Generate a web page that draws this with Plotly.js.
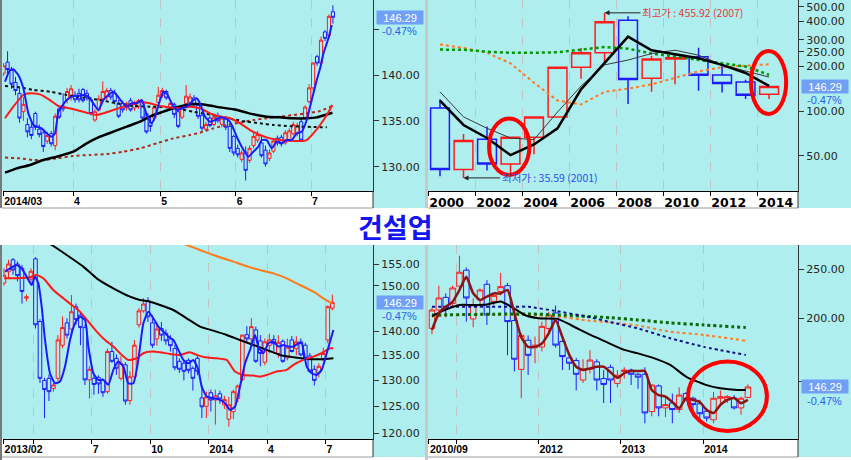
<!DOCTYPE html>
<html><head><meta charset="utf-8">
<script src="https://cdn.plot.ly/plotly-3.0.1.min.js"></script>
<style>html,body{margin:0;padding:0;background:#fff;}#chart{width:851px;height:460px;}</style>
</head><body><div id="chart"></div>
<script>
// ================= DATA =================
const chartTitle = '건설업';
const lastClose = 146.29;
const lastChange = '-0.47%';

// --- Top-left: daily 2014/03 - 2014/07 ---
const tlOpen  = [140.2,141.4,140.5,139.2,138.0,136.0,134.6,134.3,135.8,134.1,133.7,132.8,133.6,132.3,136.3,136.6,137.3,137.6,137.8,138.0,138.4,138.0,137.3,135.1,136.2,137.4,137.6,138.3,138.0,136.9,136.9,136.4,137.2,136.4,136.6,137.0,135.8,134.8,135.3,137.0,137.8,138.2,136.5,136.8,136.0,135.4,136.9,137.0,137.5,136.7,135.6,134.1,135.3,134.6,135.5,134.6,135.2,134.4,133.3,132.0,130.8,131.6,130.7,132.3,132.9,132.6,131.8,130.9,131.7,133.1,133.2,132.6,132.9,133.6,133.6,134.9,135.3,137.1,138.6,142.0,141.3,144.7,144.3,146.9];
const tlHigh  = [141.3,142.6,140.9,139.8,138.6,137.6,135.3,134.9,136.0,134.6,134.0,133.8,133.9,135.8,136.6,138.0,138.6,138.9,138.2,138.5,138.6,138.4,137.6,136.3,137.8,139.3,138.6,138.6,138.4,137.3,137.2,137.1,137.5,137.2,137.4,137.2,136.0,135.3,136.7,138.7,138.6,138.4,137.1,137.0,136.2,136.6,138.9,138.0,137.8,136.9,135.8,134.9,135.6,135.8,135.9,135.6,135.5,134.6,133.5,132.4,131.8,132.2,132.3,133.8,133.9,133.4,132.3,131.9,133.0,133.4,133.5,134.0,134.2,134.9,134.8,135.2,136.7,139.0,141.4,142.2,144.2,144.9,146.6,147.6];
const tlLow   = [139.9,140.0,138.5,137.8,134.8,135.0,133.2,133.0,134.0,133.2,131.6,132.5,132.2,131.8,135.2,136.0,136.9,137.2,137.0,137.0,137.0,137.2,135.6,134.9,136.0,137.0,137.2,137.3,136.8,135.3,135.9,136.1,136.0,136.1,136.3,135.1,133.6,133.8,135.0,136.8,137.5,137.3,136.2,135.3,134.2,135.2,136.7,136.8,136.5,135.2,133.9,133.9,134.3,134.4,134.8,134.3,134.0,131.6,131.2,131.0,130.5,128.5,130.4,132.0,132.6,131.0,130.0,130.6,131.5,132.3,132.2,132.4,132.7,133.4,133.3,132.7,135.1,136.9,138.3,141.0,141.0,143.7,144.0,145.6];
const tlClose = [141.0,140.6,139.0,138.3,135.3,136.8,133.8,133.4,134.3,133.5,132.2,133.4,132.5,135.5,135.4,136.3,138.2,138.5,137.3,137.3,137.2,137.5,135.8,136.0,137.4,138.2,138.3,137.6,137.1,135.5,136.2,136.9,136.2,136.9,137.2,135.3,133.8,134.4,136.5,137.8,138.3,137.5,136.9,135.7,134.4,136.4,137.7,137.6,136.8,135.5,134.2,134.6,134.5,135.4,135.0,135.3,134.3,132.0,131.5,131.3,131.5,129.6,132.0,133.3,133.5,131.2,130.3,131.5,132.8,132.6,132.5,133.7,133.9,134.6,134.5,132.9,136.5,138.6,141.3,141.3,143.8,144.0,146.4,146.29];
const tlTickPos  = [-0.1, 17.5, 39.5, 58.5, 77.5];
const tlTickText = ['2014/03','4','5','6','7'];
const tlYTicks = [130,135,140,145];
const tlYText  = ['130.00','135.00','140.00',''];
const tlMa5X = [0.35,1.61,2.45,3.71,4.98,6.24,7.5,8.34,9.6,10.86,12.12,12.96,13.8,14.64,15.9,17.16,18.42,20.1,21.36,22.62,23.88,25.14,26.4,27.66,28.5,29.77,31.03,32.29,33.55,34.81,36.07,37.33,38.17,39.43,40.27,41.11,42.37,43.63,44.89,46.15,47.41,48.67,49.51,50.77,52.03,53.29,54.55,55.82,56.66,57.5,58.76,60.02,61.7,62.96,64.22,65.06,66.32,67.58,68.84,70.1,71.36,72.62,73.88,75.14,76.4,77.24,78.08,78.93,79.77,80.61,81.87,82.71];
const tlMa5Y = [139.27,140.55,140.62,140.0,138.55,135.82,134.55,134.37,134.18,133.64,133.27,133.64,136.0,136.55,137.27,137.64,137.71,137.82,137.64,136.91,136.18,137.27,137.82,138.18,137.82,137.09,136.55,136.91,136.91,137.27,135.64,134.73,135.46,137.27,138.18,138.0,136.91,136.18,136.37,136.55,137.09,137.46,136.91,135.46,134.91,135.09,135.38,135.27,135.09,134.55,133.27,132.18,131.09,131.64,132.18,132.91,132.91,132.0,132.73,132.55,132.91,132.91,133.64,133.82,135.09,136.55,138.0,139.45,140.73,142.36,144.0,145.45];
const tlMa20X = [0.35,2.45,4.98,6.66,9.18,11.7,13.8,15.9,18.42,20.94,23.46,25.14,27.66,30.19,32.71,34.39,36.91,39.43,41.95,44.47,46.99,49.51,52.03,54.55,57.08,59.6,62.12,64.64,67.16,69.68,72.2,74.72,76.4,78.08,79.77,81.45,82.87];
const tlMa20Y = [135.28,136.55,137.82,138.0,137.89,137.27,136.62,136.44,136.18,135.89,135.64,135.82,136.18,136.55,136.91,137.09,136.91,136.62,136.47,136.37,136.55,136.37,135.82,135.46,135.28,134.73,134.0,133.46,133.09,132.91,132.84,132.8,132.91,133.64,134.55,135.64,136.73];
const tlMa60X = [0.35,3.29,6.66,10.02,13.38,17.58,20.94,24.3,27.66,31.03,34.39,37.75,40.27,42.79,46.15,48.67,51.19,54.55,57.92,60.44,62.96,66.32,69.68,73.04,76.4,78.93,81.03,82.87];
const tlMa60Y = [129.35,129.82,130.19,130.73,131.09,131.64,132.55,133.27,133.82,134.37,134.91,135.64,136.0,136.37,136.73,136.84,136.73,136.47,136.26,136.0,135.71,135.46,135.38,135.28,135.28,135.38,135.64,135.89];
const tlMa120X = [0.35,4.13,7.5,11.7,15.9,20.1,24.3,28.5,32.71,36.91,41.11,44.47,47.83,51.19,54.55,57.92,61.28,64.64,68.0,71.36,74.72,78.08,81.45];
const tlMa120Y = [138.8,138.66,138.37,138.18,137.82,137.53,137.27,136.91,136.62,136.55,136.47,136.26,136.0,135.75,135.46,135.17,134.91,134.73,134.55,134.44,134.37,134.33,134.29];
const tlMa240X = [0.35,4.13,7.5,10.02,13.38,17.58,21.78,25.98,30.19,34.39,38.59,42.79,46.99,49.51,52.87,56.24,59.6,62.96,66.32,69.68,73.04,76.4,79.77,82.87];
const tlMa240Y = [130.99,130.91,130.73,130.73,130.91,131.17,131.28,131.38,131.64,132.0,132.55,133.09,133.46,133.71,134.18,134.55,134.8,135.09,135.28,135.46,135.64,135.82,136.08,136.62];

// --- Top-right: yearly 2000 - 2014 ---
const trYears = [2000,2001,2002,2003,2004,2005,2006,2007,2008,2009,2010,2011,2012,2013,2014];
const trOpen  = [104.6,40.5,64.6,44.1,66.6,91.3,197,245.9,406,166,223,231,174.6,156.5,129.8];
const trHigh  = [119.8,70.0,78.6,67.0,91.5,198,265,455.92,433,235,245,266,209,162,146.8];
const trLow   = [36.5,35.59,39.9,38.0,51.3,90,164.4,209,111.6,134.5,151,136.6,133,120.4,120.4];
const trClose = [40.5,63.4,44.1,66.6,91.3,197,245.9,398,162.7,223,228,174,153,127.8,146.29];
const trMaThick  = [117.5,80.6,65.9,50.6,59.7,76.6,139.9,209,315.7,255.9,240.6,225.8,204,179.9,147.3];
const trMaThin   = [134.6,91.4,76.6,65.9,64.3,98.5,147,204,219.8,243,255.9,237,204,184.6,169];
const trMaGreen  = [258.3,258,250,246,246,248,258,269,262,243,231.5,219.7,209,198.9,175];
const trMaOrange = [279.9,265,245.9,209,154.8,117.5,110.6,134.5,141.4,150.9,166.8,184.6,197,202,206];
const trTickPos  = [1999.5,2001.5,2003.5,2005.5,2007.5,2009.5,2011.5,2013.5];
const trTickText = ['2000','2002','2004','2006','2008','2010','2012','2014'];
const trYTicks = [50,100,200,250,300,400,500];
const trYText  = ['50.00','100.00','200.00','250.00','300.00','400.00','500.00'];
const trHighNote = {year: 2007, value: 455.92, text: '최고가 : 455.92 (2007)'};
const trLowNote  = {year: 2001, value: 35.59,  text: '최저가 : 35.59 (2001)'};

// --- Bottom-left: weekly 2013/02 - 2014/07 ---
const blOpen  = [150.6,153.2,156.0,155.0,154.0,147.2,151.5,156.2,142.1,130.0,130.4,128.4,130.4,137.1,141.8,140.5,145.3,143.5,140.8,130.1,130.4,130.6,130.0,127.8,135.8,134.4,130.4,133.1,126.1,130.7,141.4,144.4,146.6,141.8,138.4,140.6,139.6,138.4,136.4,133.8,133.4,134.0,132.4,134.4,126.6,125.0,127.6,126.2,127.4,125.3,122.6,124.0,126.5,130.2,139.3,138.4,140.3,138.0,133.6,137.0,138.3,135.4,137.9,134.5,138.2,136.4,137.8,137.1,134.9,132.2,131.5,134.1,138.2,145.0];
const blHigh  = [154.0,156.0,156.4,155.6,154.8,148.0,154.0,156.6,142.6,130.5,131.2,129.5,139.2,143.2,142.8,147.9,146.0,144.2,141.4,132.8,131.0,131.0,130.4,136.4,137.8,135.2,134.8,133.6,131.8,138.2,145.0,147.2,147.4,143.5,142.0,142.0,140.4,139.2,137.1,134.4,134.0,134.4,132.8,135.1,129.0,127.8,128.2,128.2,128.0,127.0,126.8,128.2,129.2,139.3,141.1,142.8,141.0,139.2,138.5,139.5,139.2,139.2,138.3,138.5,139.0,139.0,138.5,137.6,135.5,133.0,133.4,136.6,145.6,148.0];
const blLow   = [150.0,151.7,152.5,151.0,146.0,146.5,150.8,140.6,129.5,122.8,126.0,127.8,129.8,136.5,138.5,139.2,141.4,137.1,129.1,126.5,127.2,127.4,126.8,127.4,133.5,131.1,130.0,125.3,125.3,130.0,140.8,144.0,142.0,136.5,137.0,138.0,137.2,135.8,132.0,131.5,130.0,131.4,128.0,131.0,122.8,122.8,124.0,121.6,125.5,124.5,121.2,122.6,125.8,129.8,137.8,137.2,133.5,132.8,133.0,135.4,135.8,134.5,133.5,134.0,135.6,135.0,134.8,134.0,131.5,129.0,130.6,133.8,137.5,144.5];
const blClose = [152.4,155.0,153.6,152.3,148.7,147.5,153.3,141.4,130.4,128.2,127.8,129.1,138.2,140.8,139.2,144.2,142.5,140.8,130.1,132.2,129.2,129.3,127.6,135.8,133.8,132.4,133.4,126.0,130.7,137.1,144.4,145.9,143.1,137.1,140.5,139.2,138.0,137.0,132.5,132.2,131.8,132.0,130.4,131.8,124.9,126.8,126.2,127.0,126.4,126.3,125.3,127.8,128.9,139.2,138.4,141.0,133.8,135.4,137.8,138.2,137.4,137.7,133.8,136.7,135.8,137.8,135.1,134.4,131.8,130.0,132.8,135.4,145.3,146.29];
const blTickPos  = [-0.1, 6.5, 19.5, 32.5, 45.5, 58.5, 71.5];
const blTickText = ['2013/02','','7','10','2014','4','7'];
const blYTicks = [120,125,130,135,140,150,155];
const blYText  = ['120.00','125.00','130.00','135.00','140.00','150.00','155.00'];
const blMa5X = [0.22,1.33,2.82,3.93,5.04,6.15,6.89,7.64,8.38,9.12,10.23,11.34,12.45,13.57,14.68,15.79,16.9,18.01,18.76,19.87,20.98,22.09,23.2,24.31,25.43,26.54,27.65,28.76,29.87,30.99,32.1,33.21,34.32,35.43,36.55,37.66,38.77,39.88,40.99,42.11,43.22,43.96,45.07,46.55,48.04,49.15,50.26,51.37,52.48,53.6,54.71,55.82,56.56,57.67,58.78,59.9,61.01,62.12,63.23,64.34,65.46,66.2,67.31,68.42,69.53,70.64,71.76,73.24];
const blMa5Y = [153.21,153.99,154.77,153.99,152.06,150.16,152.06,150.54,145.32,138.19,131.41,129.44,129.77,132.74,138.19,141.72,143.14,142.43,136.81,131.41,130.1,130.1,129.12,132.08,133.75,132.74,129.44,129.44,134.08,141.72,144.23,142.79,141.01,139.95,138.89,138.19,136.13,134.08,133.41,134.08,132.08,128.79,126.86,126.54,126.22,125.59,124.33,124.96,128.79,133.41,136.13,139.24,136.81,135.44,137.5,137.85,136.81,137.15,136.81,136.81,137.5,137.5,132.74,131.41,131.08,132.08,135.44,140.3];
const blMa20X = [0,2.82,5.78,7.26,8.75,10.97,13.2,15.05,16.9,18.76,20.61,22.46,24.31,26.17,27.65,29.5,30.99,32.84,34.69,36.92,39.14,41.36,42.85,44.7,47.3,49.52,51.37,53.23,55.45,56.93,58.41,60.64,62.86,64.34,66.57,68.79,70.64,72.5,73.24];
const blMa20Y = [151.68,151.68,151.92,152.47,151.68,149.03,147.16,145.69,144.23,142.07,139.95,138.19,136.81,135.1,134.08,134.42,135.44,135.78,135.64,135.3,135.1,135.64,135.1,134.62,134.42,134.08,131.74,131.08,130.95,130.75,131.08,131.74,132.08,133.08,134.08,134.76,135.44,136.47,136.47];
const blMa60X = [0,10.6,13.94,17.64,20.61,24.31,28.02,30.24,32.47,34.69,37.66,40.62,43.59,46.55,49.52,52.48,55.45,58.41,61.38,64.34,67.31,70.27,73.24];
const blMa60Y = [166.0,159.52,157.12,154.38,151.68,149.4,147.53,146.79,146.42,145.69,144.59,142.79,141.01,140.15,139.24,138.19,137.15,136.13,135.1,134.62,134.28,134.22,134.42];
const blMa120X = [30,40.62,43.59,46.55,51.0,55.45,59.9,62.86,65.83,68.79,71.02,72.87];
const blMa120Y = [164.0,159.52,158.32,157.12,155.55,153.99,152.83,151.68,150.16,148.65,147.16,146.06];

// --- Bottom-right: monthly 2010/09 - 2014/07 ---
const brOpen  = [191,207.7,220,214,231.5,249,199.4,217.4,233.5,216,226,232,198,158.5,181,175,175.5,191,205,180,167,165,151,158.6,164,152,160,148.7,157,158,155,155,130.8,147,133,136,132,142,139,135.5,131,126,139,138,139,133,139.5];
const brHigh  = [210,232,224,232,266,252,219,229,238,225,246,235,206,187,185,184,197,206,212,184,171,167,166,173,166,158,162,158,160,159,156,160,148,148,139,142,146,143,140,138,133,143,144,141,141,140,148];
const brLow   = [186,201,201,210,227.5,197,192,210,194,212,222,169,157,139,154.5,163,172,187,175,158,158,144,149,155.6,144,136,136,146,152,147.6,145,124,128,128,127.5,124,130,137,128,126,125,124,134,136,132,129,139];
const brClose = [207.7,219.4,210,229.6,246.7,219.4,212.5,227.5,203,222,231,197,166,185,169,177,192.8,203,177,168,163,155,158.6,165.4,151,148,151,154.3,158,155,153,130,147.6,133,135,132,141,138,135,129.5,127,139,140,140,133,139,146.29];
const brTickPos  = [-0.45, 3.5, 15.5, 27.5, 39.5];
const brTickText = ['2010/09','','2012','2013','2014'];
const brYTicks = [150,200,250];
const brYText  = ['','200.00','250.00'];
const brMaShort = [189.7,204.6,210.8,215.6,227.5,241.6,224.1,217.4,220.8,224.0,224.0,227.5,204.6,183.4,175.6,175.6,178.3,186.8,198.5,183.4,169.3,160.4,158.1,159.2,160.4,160.4,156.4,152.5,155.8,157.3,157.3,157.3,144.3,141.0,140.0,136.6,132.8,139.1,137.9,136.6,131.7,129.9,134.8,137.9,139.1,135.9,137.9];
const brMaBlackX = [0,2,4,6,8,10,11.5,13.5,15.5,18.3,20.2,23.1,25.1,28,30,32.3,34.7,37.1,40,42,44.5,45.7];
const brMaBlackY = [202,208,212.5,212.5,213,216,211,203,200,199.5,194,185.4,180.3,173.2,170.5,166.8,161.7,153,147.5,145.4,144.3,144.3];
const brMaNavyX = [0,11,14,18.7,22.6,26,30,34.7,39.6,45.7];
const brMaNavyY = [210.8,210.8,210.8,206,201.5,196.5,191,182.6,175.6,169.3];
const brMaGreenX = [0,14,18.7,26,30,34.7,39.6,45.7];
const brMaGreenY = [203,204,203,200.5,198.5,195.9,194,191.8];
const brMaOrangeX = [0,3,14,18.7,22.6,26,30,34.7,39.6,45.7];
const brMaOrangeY = [201.5,203,203,201.5,198,196.3,193.5,188.2,185.4,180.6];

// ================= STYLE / LAYOUT =================
const W = 851, H = 460;
const fx = p => p / W, fy = p => 1 - p / H;
const CYAN = '#AFEEEE';
const FONT = 'Liberation Sans, Arial, sans-serif';
const KFONT = 'Noto Sans CJK KR, Liberation Sans, sans-serif';
const idx = arr => arr.map((_, i) => i);

function candle(xs, o, h, l, c, xa, ya, lw) {
  return {type:'candlestick', x:xs, open:o, high:h, low:l, close:c, xaxis:xa, yaxis:ya,
    increasing:{line:{color:'#ff1c1c', width:lw}, fillcolor:'rgba(0,0,0,0)'},
    decreasing:{line:{color:'#1c1cff', width:lw}, fillcolor:'rgba(0,0,0,0)'},
    whiskerwidth:0, hoverinfo:'skip', showlegend:false};
}
function ln(xs, ys, xa, ya, color, width, dash, smooth) {
  return {type:'scatter', mode:'lines', x:xs, y:ys, xaxis:xa, yaxis:ya,
    line:{color:color, width:width, dash:dash || 'solid', shape: smooth ? 'spline' : 'linear', smoothing:0.5},
    hoverinfo:'skip', showlegend:false};
}

const traces = [
  candle(idx(tlClose), tlOpen, tlHigh, tlLow, tlClose, 'x', 'y', 1),
  ln(tlMa240X, tlMa240Y, 'x', 'y', '#b0281c', 2, 'dot', true),
  ln(tlMa120X, tlMa120Y, 'x', 'y', '#111', 2, 'dot', true),
  ln(tlMa60X, tlMa60Y, 'x', 'y', '#000', 2.5, 'solid', true),
  ln(tlMa20X, tlMa20Y, 'x', 'y', '#ff1a1a', 2, 'solid', true),
  ln(tlMa5X, tlMa5Y, 'x', 'y', '#1a1aff', 2, 'solid', true),
  candle(trYears, trOpen, trHigh, trLow, trClose, 'x2', 'y2', 1.5),
  ln(trYears, trMaOrange, 'x2', 'y2', '#ff7a22', 2, 'dot', false),
  ln(trYears, trMaGreen, 'x2', 'y2', '#009a00', 2.5, 'dot', false),
  ln(trYears, trMaThin, 'x2', 'y2', '#3a3a3a', 1, 'solid', false),
  ln(trYears, trMaThick, 'x2', 'y2', '#000', 2.5, 'solid', false),
  candle(idx(blClose), blOpen, blHigh, blLow, blClose, 'x3', 'y3', 1),
  ln(blMa120X, blMa120Y, 'x3', 'y3', '#ff7a1a', 2, 'solid', true),
  ln(blMa60X, blMa60Y, 'x3', 'y3', '#000', 2, 'solid', true),
  ln(blMa20X, blMa20Y, 'x3', 'y3', '#ff1a1a', 2, 'solid', true),
  ln(blMa5X, blMa5Y, 'x3', 'y3', '#1a1aff', 2, 'solid', true),
  candle(idx(brClose), brOpen, brHigh, brLow, brClose, 'x4', 'y4', 1),
  ln(brMaOrangeX, brMaOrangeY, 'x4', 'y4', '#ff7a22', 2, 'dot', true),
  ln(brMaGreenX, brMaGreenY, 'x4', 'y4', '#0a6a0a', 3, 'dot', true),
  ln(brMaNavyX, brMaNavyY, 'x4', 'y4', '#10108a', 2, 'dot', true),
  ln(brMaBlackX, brMaBlackY, 'x4', 'y4', '#000', 2, 'solid', true),
  ln(idx(brMaShort), brMaShort, 'x4', 'y4', '#8b1414', 2.5, 'solid', true)
];

function xAxis(dom, anchor, range, tv, tt, big) {
  return {domain:dom, anchor:anchor, range:range, type:'linear', tickmode:'array', tickvals:tv, ticktext:tt,
    showgrid:true, gridcolor:'#c2c2c2', griddash:'dash', gridwidth:1,
    ticks:'outside', ticklen:4, tickcolor:'#000', showline:true, linecolor:'#000', linewidth:1,
    zeroline:false, ticklabelposition:'outside right',
    tickfont: big ? {family:'DejaVu Sans, sans-serif', size:12.5, color:'#000', weight:'bold'}
                  : {family:FONT, size:10.5, color:'#000', weight:'bold'},
    rangeslider:{visible:false}, fixedrange:true};
}
const YFONT = {family:'DejaVu Sans, sans-serif', size:11, color:'#262626'};
function yAxis(dom, anchor, type, range, tv, tt) {
  return {domain:dom, anchor:anchor, side:'right', type:type, range:range, tickmode:'array', tickvals:tv, ticktext:tt,
    showgrid:false, zeroline:false, ticks:'outside', ticklen:5, tickcolor:'#333',
    showline:true, linecolor:'#333', linewidth:1, ticklabeloverflow:'allow',
    tickfont:YFONT, fixedrange:true};
}
const L = Math.log10;
const dxL = [fx(3), fx(373)], dxR = [fx(428), fx(798)];
const dyT = [fy(191), 1], dyB = [fy(439), fy(245)];

const shapes = [];
function rectP(x0, x1, y0, y1, fill) {
  shapes.push({type:'rect', xref:'paper', yref:'paper', x0:fx(x0), x1:fx(x1), y0:fy(y1), y1:fy(y0), fillcolor:fill, line:{width:0}, layer:'below'});
}
function lineP(x0, y0, x1, y1, color, w) {
  shapes.push({type:'line', xref:'paper', yref:'paper', x0:fx(x0), x1:fx(x1), y0:fy(y0), y1:fy(y1), line:{color:color, width:w}, layer:'above'});
}
rectP(2, 373, 191, 208, '#fff');
rectP(428, 798, 191, 208, '#fff');
rectP(0, 851, 208, 245, '#fff');
rectP(2, 373, 439, 457, '#fff');
rectP(428, 798, 439, 457, '#fff');
rectP(0, 851, 457, 460, '#fff');
lineP(2, 208, 373, 208, '#9a9a9a', 1);
lineP(428, 208, 798, 208, '#9a9a9a', 1);
lineP(2, 457, 373, 457, '#9a9a9a', 1);
lineP(428, 457, 798, 457, '#9a9a9a', 1);
lineP(373, 191, 373, 208, '#333', 1);
lineP(798, 191, 798, 208, '#333', 1);
lineP(373, 439, 373, 457, '#333', 1);
lineP(798, 439, 798, 457, '#333', 1);
lineP(1, 0, 1, 208, '#7a7a7a', 2);
lineP(1, 245, 1, 460, '#7a7a7a', 2);
lineP(426.5, 0, 426.5, 208, '#c8c8c8', 3);
lineP(426.5, 245, 426.5, 460, '#c8c8c8', 3);
shapes.push({type:'circle', xref:'x2 domain', yref:'y2 domain', x0:0.165, x1:0.274, y0:0.084, y1:0.380, line:{color:'#ff0000', width:4}});
shapes.push({type:'circle', xref:'x2 domain', yref:'y2 domain', x0:0.873, x1:0.968, y0:0.403, y1:0.733, line:{color:'#ff0000', width:4}});
shapes.push({type:'circle', xref:'x4 domain', yref:'y4 domain', x0:0.703, x1:0.916, y0:0.041, y1:0.400, line:{color:'#ff0000', width:4}});

const annotations = [
  {xref:'paper', yref:'paper', x:fx(395.5), y:fy(226.5), text:chartTitle, showarrow:false,
   xanchor:'center', yanchor:'middle', font:{family:KFONT, size:27, color:'#1414f0', weight:'bold'}},
  {xref:'x2', yref:'y2', x:trHighNote.year, y:L(trHighNote.value), text:trHighNote.text, showarrow:true,
   ax:88, ay:0, arrowhead:2, arrowsize:1, arrowwidth:1, arrowcolor:'#222', standoff:0,
   font:{family:KFONT, size:10.5, color:'#e23a3a'}},
  {xref:'x2', yref:'y2', x:trLowNote.year, y:L(trLowNote.value), text:trLowNote.text, showarrow:true,
   ax:86, ay:0, arrowhead:2, arrowsize:1, arrowwidth:1, arrowcolor:'#222', standoff:0,
   font:{family:KFONT, size:10.5, color:'#2d4fe6'}}
];
[['y', false, 399.5], ['y2', true, 824.5], ['y3', true, 399.5], ['y4', true, 824.5]].forEach(([ya, isLog, cx]) => {
  const yv = isLog ? L(lastClose) : lastClose;
  annotations.push({xref:'paper', yref:ya, x:fx(cx), y:yv, text:lastClose.toFixed(2), showarrow:false,
    xanchor:'center', yanchor:'middle', bgcolor:'#6f9ff6', width:46, height:13, borderpad:0,
    font:{family:FONT, size:11, color:'#ffffff'}});
  annotations.push({xref:'paper', yref:ya, x:fx(cx), y:yv, yshift:-14, text:lastChange, showarrow:false,
    xanchor:'center', yanchor:'middle', font:{family:FONT, size:11, color:'#2a62ea'}});
});

const layout = {
  width:W, height:H, margin:{l:0, r:0, t:0, b:0, pad:0},
  paper_bgcolor:CYAN, plot_bgcolor:CYAN, showlegend:false, hovermode:false,
  boxgap:0.2, boxgroupgap:0, font:{family:FONT},
  xaxis:  xAxis(dxL, 'y',  [-0.15, 93.1], tlTickPos, tlTickText, false),
  yaxis:  yAxis(dyT, 'x',  'linear', [127.35, 148.18], tlYTicks, tlYText),
  xaxis2: xAxis(dxR, 'y2', [1999.49, 2015.23], trTickPos, trTickText, true),
  yaxis2: yAxis(dyT, 'x2', 'log', [1.4634, 2.745], trYTicks, trYText),
  xaxis3: xAxis(dxL, 'y3', [-0.22, 82.05], blTickPos, blTickText, false),
  yaxis3: yAxis(dyB, 'x3', 'log', [2.07547, 2.2028], blYTicks, blYText),
  xaxis4: xAxis(dxR, 'y4', [-0.58, 53.3], brTickPos, brTickText, false),
  yaxis4: yAxis(dyB, 'x4', 'log', [2.06235, 2.44598], brYTicks, brYText),
  shapes:shapes, annotations:annotations
};
Plotly.newPlot('chart', traces, layout, {staticPlot:true, displayModeBar:false});
</script>
</body></html>
